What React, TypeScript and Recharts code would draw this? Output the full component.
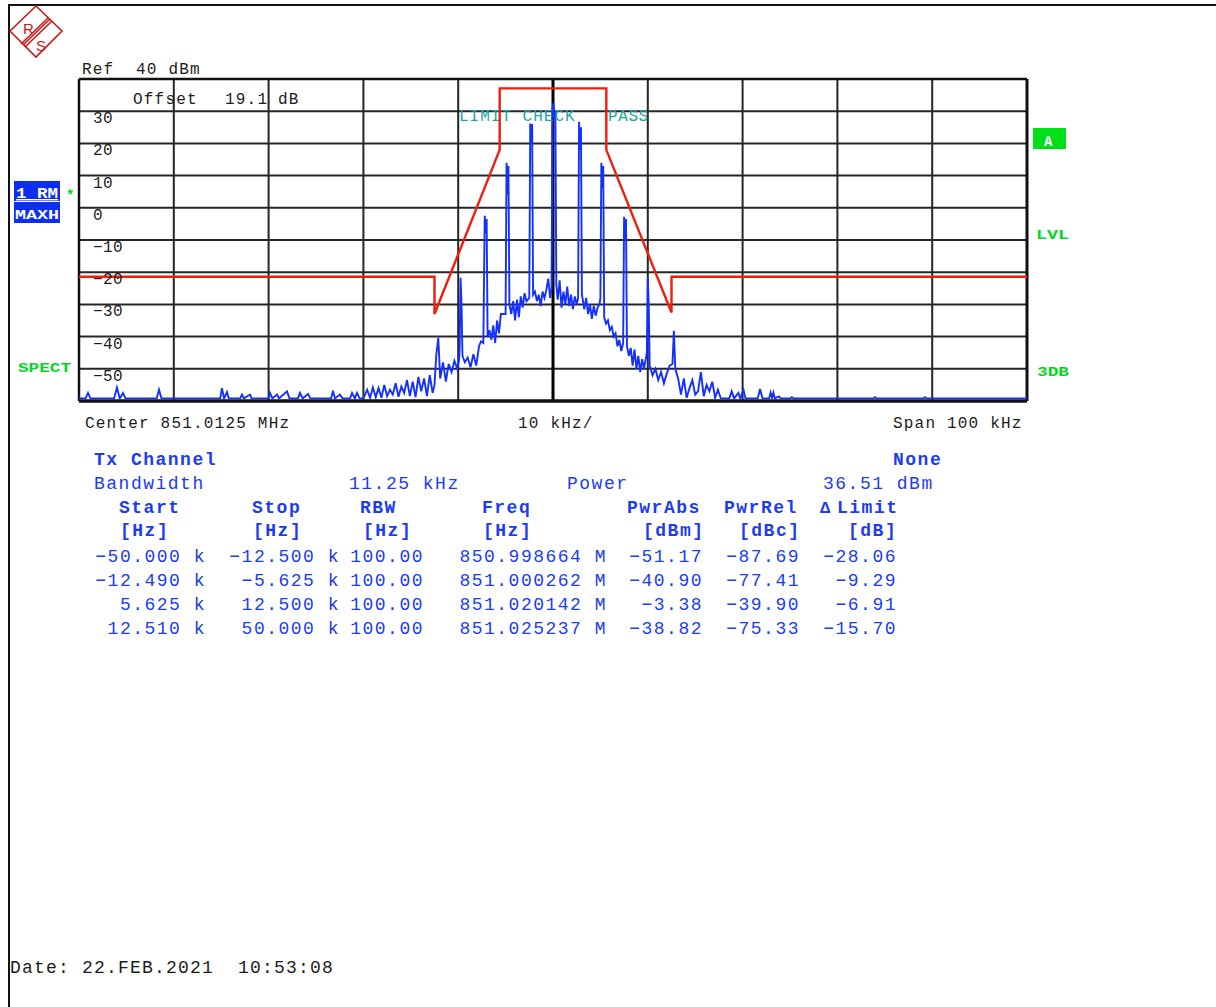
import { LineChart, Line, XAxis, YAxis, CartesianGrid, ReferenceLine } from "recharts";

// frequency offset from center (kHz), level (dBm)
const TRACE: [number, number][] = [
  [-50, -59.2], [-49.3, -59.2], [-49.05, -57.5], [-48.8, -59.2],
  [-46.3, -59.2], [-46.0, -55.8], [-45.7, -59.2], [-45.36, -57.5], [-45.1, -59.2],
  [-41.8, -59.2], [-41.56, -56.5], [-41.3, -59.2],
  [-35.1, -59.2], [-34.92, -56], [-34.7, -59.2], [-34.39, -57.2], [-34.2, -59.2],
  [-33.0, -59.2], [-32.81, -58], [-32.6, -59.2], [-31.96, -58], [-31.8, -59.2],
  [-30.0, -59.2], [-29.85, -57.5], [-29.6, -59.2], [-29.11, -58], [-28.9, -59.2], [-28.06, -57], [-27.8, -59.2],
  [-26.9, -59.2], [-26.69, -57.5], [-26.4, -59.2], [-25.84, -57.8], [-25.6, -59.2],
  [-23.4, -59.2], [-23.21, -56.8], [-23.0, -59.2], [-22.47, -58], [-22.2, -59.2],
  [-21.4, -59.2], [-21.2, -57.5], [-20.9, -59.2], [-20.68, -57.5], [-20.4, -59.2],
  [-20.0, -59.2], [-19.6, -56.5], [-19.3, -59], [-19.0, -55.8], [-18.7, -58.8], [-18.4, -56],
  [-18.1, -59], [-17.8, -55], [-17.5, -58.5], [-17.2, -56.5], [-16.9, -58], [-16.6, -54.5],
  [-16.3, -58.7], [-16.0, -55.5], [-15.7, -57.5], [-15.4, -53.5], [-15.1, -58.5], [-14.8, -54],
  [-14.5, -58.8], [-14.2, -52.5], [-13.9, -57], [-13.6, -53], [-13.3, -58.5], [-13.0, -52],
  [-12.7, -57.5], [-12.5, -55], [-12.31, -45.7], [-12.1, -40.4], [-11.9, -53], [-11.6, -48],
  [-11.3, -54], [-11.0, -48.5], [-10.7, -51], [-10.4, -47.5], [-10.1, -50], [-9.9, -47],
  [-9.85, -44], [-9.75, -21.7], [-9.65, -30], [-9.55, -46],
  [-9.3, -48], [-9.0, -46.5], [-8.7, -49.5], [-8.4, -45.5], [-8.1, -49], [-7.8, -43], [-7.6, -41.5],
  [-7.35, -42], [-7.2, -2.5], [-7.1, -8], [-7.0, -3.5], [-6.9, -40],
  [-6.7, -38], [-6.5, -41], [-6.3, -36.5], [-6.1, -42], [-5.9, -35], [-5.7, -39], [-5.5, -33],
  [-5.0, -33], [-4.9, 14], [-4.8, 4], [-4.7, 13], [-4.6, -30],
  [-4.4, -33], [-4.2, -29], [-4.0, -35], [-3.8, -28.5], [-3.6, -34], [-3.4, -27.5], [-3.2, -31],
  [-3.0, -26.5], [-2.8, -29],
  [-2.5, -28], [-2.4, 26.2], [-2.3, 20], [-2.2, 26], [-2.1, -27],
  [-1.9, -26], [-1.7, -29], [-1.5, -27], [-1.3, -30.5], [-1.1, -26], [-0.9, -28], [-0.7, -25.5],
  [-0.5, -22], [-0.3, -28],
  [-0.15, -25], [-0.05, 31], [0.05, 32.6], [0.15, 28], [0.25, 30], [0.35, -24],
  [0.5, -28.5], [0.7, -22.5], [0.9, -31], [1.1, -26], [1.3, -30], [1.5, -24.5], [1.7, -30.5],
  [1.9, -27], [2.1, -31.5], [2.3, -27.5], [2.5, -30],
  [2.65, -28], [2.75, 26.7], [2.85, 18], [2.95, 25], [3.05, -27],
  [3.3, -31.5], [3.5, -28], [3.7, -33], [3.9, -30], [4.1, -34.5], [4.3, -30.5], [4.5, -33.5],
  [4.7, -31], [4.9, -30],
  [5.0, -28], [5.1, 14], [5.2, 6], [5.3, 13], [5.4, -34],
  [5.6, -36], [5.8, -35], [6.0, -38], [6.2, -37], [6.4, -40], [6.6, -39], [6.8, -43], [7.0, -41],
  [7.2, -44.5],
  [7.4, -42], [7.5, -2.8], [7.6, -10], [7.7, -3.5], [7.8, -43],
  [8.0, -46], [8.2, -43.5], [8.4, -49], [8.6, -44], [8.8, -50], [9.0, -46], [9.2, -51], [9.4, -47],
  [9.6, -50],
  [9.9, -45], [10.0, -21.7], [10.1, -30], [10.2, -49],
  [10.5, -52], [10.8, -50], [11.1, -53.5], [11.4, -51], [11.7, -54.5], [12.0, -51.5], [12.3, -49],
  [12.6, -48.5], [12.75, -38.2], [12.9, -50],
  [13.2, -53], [13.5, -58], [13.8, -53], [14.1, -59], [14.4, -56], [14.7, -53.5], [15.0, -58],
  [15.3, -57], [15.6, -51], [15.9, -58.5], [16.2, -55], [16.5, -57], [16.8, -54], [17.1, -59],
  [17.4, -56.5], [17.7, -59.2],
  [18.6, -59.2], [18.85, -57], [19.1, -59.2], [19.55, -57.5], [19.75, -59.2], [20.1, -56.6], [20.3, -59.2],
  [21.6, -59.2], [21.84, -56.3], [22.1, -59.2], [22.8, -59.2], [22.95, -57.4], [23.1, -59.0],
  [23.25, -57.4], [23.4, -59.2], [23.84, -58.6], [24.0, -59.2], [25.0, -59.2], [25.2, -58.8],
  [25.4, -59.2], [33.8, -59.2], [33.97, -58.8], [34.15, -59.2], [39.05, -59.2], [39.24, -58.8],
  [39.4, -59.2], [50, -59.2],
];

// spectrum emission mask
const LIMIT: [number, number][] = [
  [-50, -21.4], [-12.5, -21.4], [-12.5, -33], [-5.625, 18], [-5.625, 37.1],
  [5.625, 37.1], [5.625, 18], [12.5, -32.5], [12.5, -21.4], [50, -21.4],
];

const FREQ_TICKS = [-40, -30, -20, -10, 0, 10, 20, 30, 40];
const LEVEL_TICKS = [30, 20, 10, 0, -10, -20, -30, -40, -50];

const TABLE_HEAD = ["Start", "Stop", "RBW", "Freq", "PwrAbs", "PwrRel", "Limit"];
const TABLE_UNITS = ["[Hz]", "[Hz]", "[Hz]", "[Hz]", "[dBm]", "[dBc]", "[dB]"];
const TABLE_ROWS = [
  ["−50.000 k", "−12.500 k", "100.00", "850.998664 M", "−51.17", "−87.69", "−28.06"],
  ["−12.490 k", "−5.625 k", "100.00", "851.000262 M", "−40.90", "−77.41", "−9.29"],
  ["5.625 k", "12.500 k", "100.00", "851.020142 M", "−3.38", "−39.90", "−6.91"],
  ["12.510 k", "50.000 k", "100.00", "851.025237 M", "−38.82", "−75.33", "−15.70"],
];

const MONO = "'Liberation Mono', 'DejaVu Sans Mono', monospace";
const BLUE = "#1b3cf2";
const GREEN = "#00d81e";
const INK = "#1c1c1c";

const traceData = TRACE.map(([f, v]) => ({ f, v }));
const limitData = LIMIT.map(([f, lim]) => ({ f, lim }));

const headX = [119, 252, 360, 482, 627, 724, 837];
const unitX = [120, 253, 363, 483, 643, 739, 848];
const colEnd = [206, 340, 424, 607, 703, 800, 897];
const rowY = [562, 586, 610, 634];

function LevelTick(props: any) {
  const { y, payload } = props;
  const v = payload.value as number;
  return (
    <text x={93} y={y + 12} fontFamily={MONO} fontSize={16} letterSpacing={0.4} fill={INK}>
      {v < 0 ? `−${-v}` : String(v)}
    </text>
  );
}

function Logo() {
  return (
    <g stroke="#cc1818" fill="none" strokeWidth={1.6}>
      <polygon points="36,6 62,31 36,57 10,31" />
      <line x1={50} y1={19} x2={23} y2={45} />
      <line x1={48} y1={18} x2={21} y2={44} />
      <line x1={52} y1={21} x2={25} y2={47} />
      <text x={23} y={34} fontFamily="'Liberation Sans', sans-serif" fontSize={15} fill="#cc1818" stroke="none">R</text>
      <text x={36} y={51} fontFamily="'Liberation Sans', sans-serif" fontSize={15} fill="#cc1818" stroke="none">S</text>
    </g>
  );
}

export default function App() {
  const t = (x: number, y: number, s: string, o: any = {}) => (
    <text x={x} y={y} fontFamily={MONO} fontSize={16} letterSpacing={1.2} fill={INK} style={{ whiteSpace: "pre" }} {...o}>{s}</text>
  );
  const tb = (x: number, y: number, s: string, o: any = {}) => (
    <text x={x} y={y} fontFamily={MONO} fontSize={18} letterSpacing={1.5} fill={BLUE} style={{ whiteSpace: "pre" }} {...o}>{s}</text>
  );

  return (
    <div style={{ position: "absolute", left: 0, top: 0, width: 1216, height: 1007, overflow: "hidden", background: "#fff" }}>
      <div style={{ position: "absolute", left: 8, top: 4, width: 1300, height: 1100, borderLeft: "2px solid #111", borderTop: "2px solid #111" }} />
      <div style={{ position: "absolute", left: 0, top: 0 }}>
        <LineChart width={1216} height={1007} margin={{ top: 79, left: 79, right: 189, bottom: 606 }}>
          <CartesianGrid stroke="#262626" strokeWidth={2} />
          <XAxis dataKey="f" type="number" domain={[-50, 50]} ticks={FREQ_TICKS} hide allowDuplicatedCategory={false} />
          <YAxis type="number" domain={[-60, 40]} ticks={LEVEL_TICKS} mirror axisLine={false} tickLine={false} tick={<LevelTick />} />
          <ReferenceLine x={0} stroke="#000" strokeWidth={3} />
          <ReferenceLine x={-50} stroke="#111" strokeWidth={2.5} />
          <ReferenceLine x={50} stroke="#111" strokeWidth={3} />
          <ReferenceLine y={40} stroke="#111" strokeWidth={2.5} />
          <ReferenceLine y={-60} stroke="#111" strokeWidth={3.5} />
          <Line data={limitData} dataKey="lim" type="linear" stroke="#f01c0c" strokeWidth={2.4} dot={false} isAnimationActive={false} />
          <Line data={traceData} dataKey="v" type="linear" stroke="#1430ff" strokeWidth={1.9} dot={false} isAnimationActive={false} />
        </LineChart>
      </div>
      <svg width={1216} height={1007} style={{ position: "absolute", left: 0, top: 0, pointerEvents: "none" }}>
        <Logo />
        {t(82, 74, "Ref  40 dBm")}
        {t(133, 104, "Offset")}
        {t(225, 104, "19.1")}
        {t(278, 104, "dB")}
        {t(459, 121, "LIMIT CHECK", { fill: "#1ea5a5", letterSpacing: 1.0 })}
        {t(608, 121, "PASS", { fill: "#1ea5a5", letterSpacing: 0.6 })}
        {t(85, 428, "Center 851.0125 MHz")}
        {t(518, 428, "10 kHz/")}
        {t(893, 428, "Span 100 kHz")}

        <rect x={14} y={181} width={46} height={20} fill="#0c2ef0" />
        <text x={16} y={198} fontFamily={MONO} fontSize={14} fontWeight="bold" fill="#fff" textLength={42} lengthAdjust="spacingAndGlyphs" textDecoration="underline">1 RM</text>
        <rect x={14} y={202} width={46} height={21} fill="#0c2ef0" />
        <text x={15} y={219} fontFamily={MONO} fontSize={12} fontWeight="bold" fill="#fff" textLength={44} lengthAdjust="spacingAndGlyphs">MAXH</text>
        <text x={66} y={200} fontFamily={MONO} fontSize={14} fontWeight="bold" fill={GREEN}>*</text>
        <text x={18} y={372} fontFamily={MONO} fontSize={13} fontWeight="bold" fill={GREEN} textLength={53} lengthAdjust="spacingAndGlyphs">SPECT</text>
        <rect x={1033} y={128} width={33} height={21} fill="#00e01a" />
        <text x={1044} y={146} fontFamily={MONO} fontSize={14} fontWeight="bold" fill="#fff">A</text>
        <text x={1036} y={239} fontFamily={MONO} fontSize={13} fontWeight="bold" fill={GREEN} textLength={33} lengthAdjust="spacingAndGlyphs">LVL</text>
        <text x={1037} y={376} fontFamily={MONO} fontSize={13} fontWeight="bold" fill={GREEN} textLength={32} lengthAdjust="spacingAndGlyphs">3DB</text>

        {tb(94, 465, "Tx Channel", { fontWeight: "bold" })}
        {tb(893, 465, "None", { fontWeight: "bold" })}
        {tb(94, 489, "Bandwidth")}
        {tb(349, 489, "11.25 kHz")}
        {tb(567, 489, "Power")}
        {tb(823, 489, "36.51 dBm")}
        {TABLE_HEAD.map((h, i) => (
          <g key={h}>{tb(headX[i], 513, h, { fontWeight: "bold" })}</g>
        ))}
        {tb(820, 513, "Δ", { fontWeight: "bold", fontSize: 17 })}
        {TABLE_UNITS.map((u, i) => (
          <g key={i}>{tb(unitX[i], 536, u, { fontWeight: "bold" })}</g>
        ))}
        {TABLE_ROWS.map((row, r) =>
          row.map((cell, c) => <g key={`${r}-${c}`}>{tb(colEnd[c], rowY[r], cell, { textAnchor: "end" })}</g>)
        )}
        {t(10, 973, "Date: 22.FEB.2021  10:53:08", { fontSize: 18, letterSpacing: 1.2 })}
      </svg>
    </div>
  );
}
